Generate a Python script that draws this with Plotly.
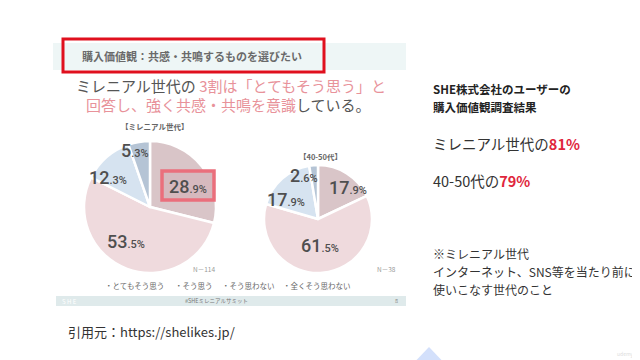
import math
import plotly.graph_objects as go

# ---------------- data ----------------
categories = ["とてもそう思う", "そう思う", "そう思わない", "全くそう思わない"]
millennial_values = [28.9, 53.5, 12.3, 5.3]
age4050_values = [17.9, 61.5, 17.9, 2.6]
n_millennial = 114
n_4050 = 38
summary_groups = ["ミレニアル世代の", "40-50代の"]
summary_percent = [81, 79]

# ---------------- style ----------------
W, H = 640, 360
slice_colors = ["#d9c5c8", "#efdadd", "#d6e3f0", "#b5c4d5"]
JP = "Noto Sans CJK JP"
GRAY = "#555555"
PINK = "#e8929a"
RED = "#e0263c"

def fx(x):
    return x / W

def fy(y):
    return 1 - y / H

fig = go.Figure()

# label placement styling (radius factor, angular shift in degrees)
left_label_style = [(0.65, 9), (0.64, 14), (0.78, -14), (0.88, -5)]
right_label_style = [(0.81, 11), (0.50, 1), (0.69, -17), (0.85, -13)]

annotations = []
shapes = []


def pct_label(v):
    s = f"{v:.1f}"
    whole, dec = s.split(".")
    return f"{whole}<span style='font-size:11px'>.{dec}%</span>"


def add_pie(values, cx, cy, r, label_style):
    fig.add_trace(go.Pie(
        values=values, labels=categories, sort=False,
        direction="clockwise", rotation=0,
        marker=dict(colors=slice_colors, line=dict(color="white", width=2.5)),
        textinfo="none", hoverinfo="label+percent", showlegend=False,
        domain=dict(x=[fx(cx - r), fx(cx + r)], y=[fy(cy + r), fy(cy - r)]),
    ))
    total = sum(values)
    cum = 0.0
    for v, (k, shift) in zip(values, label_style):
        mid = (cum + v / 2) / total * 360 + shift
        cum += v
        a = math.radians(mid)
        x = cx + k * r * math.sin(a)
        y = cy - k * r * math.cos(a)
        annotations.append(dict(
            x=fx(x), y=fy(y), xref="paper", yref="paper", showarrow=False,
            text=pct_label(v),
            font=dict(family="Roboto", size=18, color="#4f4f4f", weight=500),
            xanchor="center", yanchor="middle",
        ))


# decorative slide elements
shapes.append(dict(type="rect", xref="paper", yref="paper",
                   x0=fx(45), x1=fx(398), y0=fy(62), y1=fy(35),
                   fillcolor="#eef6f6", line=dict(width=0), layer="below"))
shapes.append(dict(type="rect", xref="paper", yref="paper",
                   x0=fx(48), x1=fx(398), y0=fy(298), y1=fy(288),
                   fillcolor="#dfeaeb", line=dict(width=0), layer="below"))
shapes.append(dict(type="rect", xref="paper", yref="paper",
                   x0=fx(55), x1=fx(316), y0=fy(64), y1=fy(31),
                   fillcolor="rgba(0,0,0,0)", line=dict(color="#e0101e", width=3)))
# highlight box around the 28.9% label
shapes.append(dict(type="rect", xref="paper", yref="paper",
                   x0=fx(154), x1=fx(206), y0=fy(192), y1=fy(163),
                   fillcolor="#d6b9be", line=dict(color="#ea6f7c", width=3.5)))
# triangle at bottom
shapes.append(dict(type="path", xref="paper", yref="paper",
                   path=f"M {fx(400)} {fy(361)} L {fx(421)} {fy(339)} L {fx(442)} {fy(361)} Z",
                   fillcolor="#d3e0fb", line=dict(width=0)))

add_pie(millennial_values, 142, 199, 66, left_label_style)
add_pie(age4050_values, 310, 211, 54, right_label_style)


def txt(x, y, text, size, color=GRAY, anchor="left", family=JP, yanchor="middle"):
    annotations.append(dict(x=fx(x), y=fy(y), xref="paper", yref="paper", showarrow=False,
                            text=text, font=dict(family=family, size=size, color=color),
                            xanchor=anchor, yanchor=yanchor))


# slide texts
txt(184, 48, "<b>購入価値観：共感・共鳴するものを選びたい</b>", 11, "#6a6a6a", "center")
txt(223, 77, f"ミレニアル世代の <span style='color:{PINK}'>3割は「とてもそう思う」と</span>", 15, GRAY, "center")
txt(220, 97, f"<span style='color:{PINK}'>回答し、強く共感・共鳴を意識</span>している。", 15, GRAY, "center")
txt(146, 119, "<b>【ミレニアル世代】</b>", 7.5, "#666666", "center")
txt(312, 148, "<b>【40-50代】</b>", 7.5, "#666666", "center")
txt(196, 261, f"N－{n_millennial}", 6.5, "#999999", "center")
txt(378, 261, f"N－{n_4050}", 6.5, "#999999", "center")
legend_x = [126, 186, 240, 309]
for cat, lx in zip(categories, legend_x):
    txt(lx, 277, "・" + cat, 7.5, "#666666", "center")
txt(52, 293, "S H E", 6, "white", "left")
txt(208, 293, "#SHEミレニアルサミット", 5.5, "#777777", "center")
txt(388, 293, "8", 5.5, "#888888", "center")

# right-hand texts
txt(423, 81, "<b>SHE株式会社のユーザーの</b>", 11.5, "#222222")
txt(423, 99, "<b>購入価値観調査結果</b>", 11.5, "#222222")
for (g, p), yy in zip(zip(summary_groups, summary_percent), [135, 172]):
    txt(423, yy, f"{g}<b><span style='color:{RED}'>{p}%</span></b>", 14.5, "#333333")
txt(423, 245, "※ミレニアル世代", 12, "#333333")
txt(423, 263, "インターネット、SNS等を当たり前に", 12, "#333333")
txt(423, 281, "使いこなす世代のこと", 12, "#333333")

txt(58, 323, "引用元：https://shelikes.jp/", 13, "#333333")
txt(617, 346, "udemy", 5, "#dddddd", "center")

fig.update_layout(
    width=W, height=H,
    margin=dict(l=0, r=0, t=0, b=0),
    paper_bgcolor="white", plot_bgcolor="white",
    shapes=shapes, annotations=annotations,
    showlegend=False,
)

fig.write_html("out.html")
